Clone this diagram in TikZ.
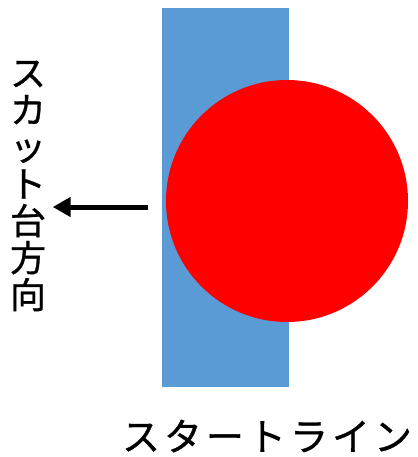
\documentclass[tikz,border=0pt]{standalone}
\usepackage{fontspec}
\newfontfamily\jp[FakeBold=0.8]{Noto Sans CJK JP}
\usetikzlibrary{arrows.meta}
\definecolor{barblue}{HTML}{5B9BD5}
\definecolor{ballred}{HTML}{FF0000}
\tikzset{
  lbl/.style={inner sep=0pt, font=\jp\fontsize{36}{37}\selectfont},
  arr/.style={line width=5pt, -{Triangle[length=18pt,width=19pt]}}
}
\begin{document}
\begin{tikzpicture}[x=1pt,y=-1pt]
\useasboundingbox (0,0) rectangle (417,457);
\fill[barblue] (162,8) rectangle (289,387);
\fill[ballred] (287,201) circle (121);
\node[lbl, align=center] (dir) at (28,186) {ス\\カ\\ッ\\ト\\台\\方\\向};
\coordinate (tail) at (148,207);
\node[inner sep=0pt] (tip) at (52,207) {};
\draw[arr] (tail) -- (tip);
\node[lbl, font=\jp\fontsize{38}{40}\selectfont] (start) at (267,436) {ス\hspace{4pt}タ\hspace{4pt}ー\hspace{4pt}ト\hspace{4pt}ラ\hspace{4pt}イ\hspace{4pt}ン};
\end{tikzpicture}
\end{document}
